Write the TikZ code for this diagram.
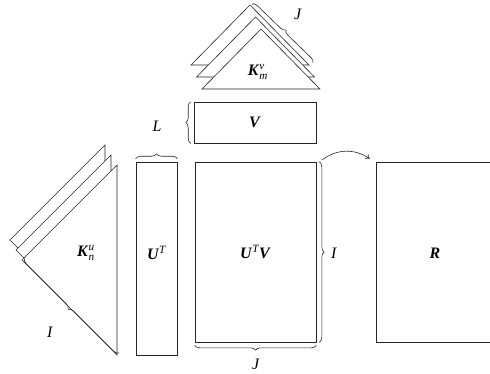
\documentclass[tikz,border=0pt]{standalone}
\usepackage{amsmath}
\usepackage{fontspec}
\setmainfont{Liberation Serif}
\usetikzlibrary{decorations.pathreplacing,arrows.meta,calc}
\tikzset{
  shp/.style={draw=black!85, line width=0.6pt, fill=white, line join=miter},
  brc/.style={draw=black!85, line width=0.6pt, decorate, decoration={brace, amplitude=5bp}},
  lbl/.style={font=\fontsize{16}{19}\selectfont, inner sep=0pt},
  arr/.style={draw=black!85, line width=0.6pt, -{To[length=4bp,width=6bp]}},
}
\newcommand{\bmx}[1]{\textbf{\textit{#1}}}
\begin{document}
\begin{tikzpicture}[x=1bp,y=-1bp]
\useasboundingbox (0,0) rectangle (490,373);
% top stack of triangles
\foreach \dx/\dy in {-11/-24, -5.5/-12, 0/0}{
  \draw[shp] (261+\dx,29+\dy) -- (320+\dx,89+\dy) -- (202+\dx,89+\dy) -- cycle;
}
\coordinate (tapex) at (252,4);
\coordinate (tright) at (313,63);
\draw[brc] (tapex) -- (tright);
\node[lbl] (Jtop) at (298,14) {\textit{J}};
\node[lbl] (Kv) at (258,72) {$\bmx{K}^{\textit{v}}_{\textit{m}}$};
% left stack of triangles
\foreach \dx/\dy in {-12/-20, -6/-10, 0/0}{
  \draw[shp] (117+\dx,165+\dy) -- (117+\dx,355+\dy) -- (22+\dx,260+\dy) -- cycle;
}
\coordinate (lbot) at (119,353);
\coordinate (lleft) at (24,258);
\draw[brc] (lbot) -- (lleft);
\node[lbl] (Ileft) at (50,332) {\textit{I}};
\node[lbl] (Ku) at (86,253) {$\bmx{K}^{\textit{u}}_{\textit{n}}$};
% V box
\node[shp, minimum width=122bp, minimum height=41bp, inner sep=0pt] (V) at (255,122.5) {};
\node[lbl] at (V.center) {\bmx{V}};
\draw[brc] ([xshift=-3bp]V.south west) -- ([xshift=-3bp]V.north west);
\node[lbl] (L) at (157,126) {\textit{L}};
% U^T box
\node[shp, minimum width=41bp, minimum height=193bp, inner sep=0pt] (UT) at (156.5,258.5) {};
\node[lbl] at (156.5,253) {$\bmx{U}^{\textit{T}}$};
\draw[brc] ([yshift=3bp]UT.north west) -- ([yshift=3bp]UT.north east);
% U^T V box
\node[shp, minimum width=121bp, minimum height=180bp, inner sep=0pt] (UTV) at (255.5,252) {};
\node[lbl] at (UTV.center) {$\bmx{U}^{\textit{T}}\bmx{V}$};
\draw[brc] ([xshift=3bp]UTV.north east) -- ([xshift=3bp]UTV.south east);
\node[lbl] (Iright) at (334,253) {\textit{I}};
\draw[brc] ([yshift=-3bp]UTV.south east) -- ([yshift=-3bp]UTV.south west);
\node[lbl] (Jbot) at (256,364) {\textit{J}};
% R box
\node[shp, minimum width=130bp, minimum height=180bp, inner sep=0pt] (R) at (441,252) {};
\node[lbl] at (435,253) {\bmx{R}};
% arrow
\draw[arr] ([xshift=6bp,yshift=2bp]UTV.north east) to[bend left=35] ([xshift=-6bp,yshift=3bp]R.north west);
\end{tikzpicture}
\end{document}
